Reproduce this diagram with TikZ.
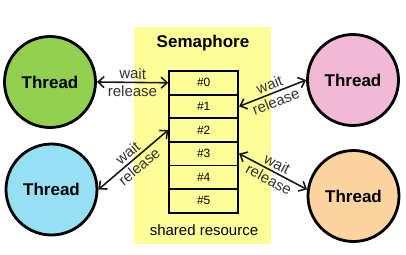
\documentclass[tikz,border=0pt]{standalone}
\usepackage{fontspec}
\setmainfont{Liberation Sans}
\usetikzlibrary{arrows.meta}
\definecolor{semyellow}{HTML}{FFFF99}
\definecolor{thgreen}{HTML}{92D050}
\definecolor{thpink}{HTML}{F2B8D6}
\definecolor{thblue}{HTML}{96E0F4}
\definecolor{thorange}{HTML}{FCD4A0}
\definecolor{labelgray}{HTML}{333333}
\begin{document}
\begin{tikzpicture}[x=1pt,y=-1pt,
  thread/.style={circle,draw=black,line width=2.8pt,minimum size=91pt,inner sep=0pt,
    font=\fontsize{17}{20}\selectfont\bfseries},
  cell/.style={draw=black,line width=1.8pt,minimum width=69pt,minimum height=23.6pt,
    inner sep=0pt,font=\fontsize{12}{14}\selectfont},
  link/.style={line width=1.6pt,draw=black!90,
    {Straight Barb[length=6pt,width=11pt]}-{Straight Barb[length=6pt,width=11pt]}},
  lbl/.style={font=\fontsize{15}{17}\selectfont,text=labelgray,inner sep=2.5pt}]
\useasboundingbox (0,0) rectangle (406,254);
% semaphore area
\node[fill=semyellow,minimum width=137pt,minimum height=217pt,inner sep=0pt] (sem) at (202.5,135.5) {};
\node[font=\fontsize{17}{20}\selectfont\bfseries] (semlbl) at (203,43) {Semaphore};
\node[font=\fontsize{15}{17}\selectfont] (shared) at (204,230) {shared resource};
% table rows
\node[cell] (r0) at (203.7,82.8) {\#0};
\node[cell] (r1) at (203.7,106.4) {\#1};
\node[cell] (r2) at (203.7,130.0) {\#2};
\node[cell] (r3) at (203.7,153.6) {\#3};
\node[cell] (r4) at (203.7,177.2) {\#4};
\node[cell] (r5) at (203.7,200.8) {\#5};
% threads
\node[thread,fill=thgreen] (g) at (50,82) {Thread};
\node[thread,fill=thpink] (p) at (353,80) {Thread};
\node[thread,fill=thblue] (b) at (51.5,189.5) {Thread};
\node[thread,fill=thorange] (o) at (353.5,196) {Thread};
% connectors
\draw[link] (g.east) -- (r0.west)
  node[lbl,midway,above,sloped] {wait}
  node[lbl,midway,below,sloped] {release};
\draw[link] (r1.east) -- (p.west)
  node[lbl,midway,above,sloped] {wait}
  node[lbl,midway,below,sloped] {release};
\draw[link] (b.east) -- (r2.west)
  node[lbl,midway,above,sloped] {wait}
  node[lbl,midway,below,sloped] {release};
\draw[link] (r3.east) -- (o.172)
  node[lbl,midway,above,sloped] {wait}
  node[lbl,midway,below,sloped] {release};
\end{tikzpicture}
\end{document}
